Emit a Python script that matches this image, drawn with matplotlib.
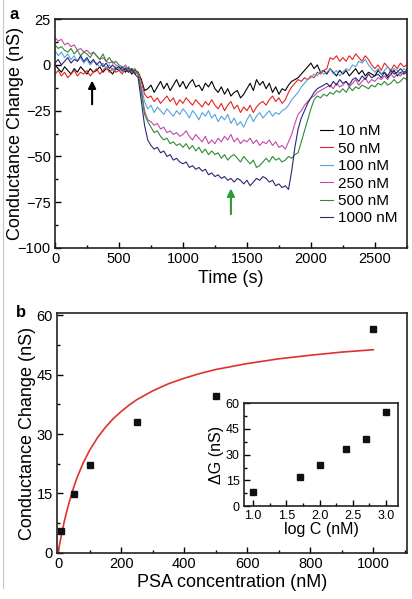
import numpy as np
import matplotlib
matplotlib.use("Agg")
import matplotlib.pyplot as plt
from matplotlib.lines import Line2D
from matplotlib.ticker import MultipleLocator, FormatStrFormatter

plt.rcParams['font.family'] = ['Liberation Sans', 'DejaVu Sans']

# ---- panel a: conductance traces, one sample every 25 s ----
t_s = np.arange(0, 2751, 25)

g_10 = [0, -2, -4, -1, -3, -5, -2, -4, -1, -3,
        -5, -2, -4, -3, -1, -4, -2, -3, -5, -2,
        -3, -1, -4, -2, -5, -3, -4, -8, -14, -13,
        -11, -15, -12, -9, -13, -10, -14, -11, -8, -12,
        -9, -13, -10, -8, -12, -11, -14, -10, -12, -9,
        -13, -15, -12, -16, -13, -17, -15, -14, -18, -16,
        -13, -10, -14, -8, -11, -9, -13, -10, -15, -12,
        -16, -13, -14, -11, -9, -8, -7, -5, -3, -1,
        1, -2, 0, -4, -3, -5, -2, -4, -6, -3,
        -5, -3, -6, -4, -2, -5, -3, -6, -4, -5,
        -6, -3, -5, -4, -7, -5, -3, -6, -4, -5, -4]

g_50 = [-5, -3, -6, -4, -7, -5, -3, -6, -4, -5,
        -3, -6, -4, -2, -5, -3, -1, -4, -2, -4,
        -3, -5, -2, -4, -3, -5, -4, -9, -16, -18,
        -17, -20, -18, -21, -19, -17, -20, -18, -22, -19,
        -21, -18, -20, -22, -19, -21, -23, -20, -22, -19,
        -22, -24, -21, -25, -22, -20, -24, -22, -26, -23,
        -25, -22, -26, -23, -21, -20, -22, -19, -17, -20,
        -18, -21, -19, -15, -12, -10, -8, -9, -7, -8,
        -6, -7, -4, -5, -3, -2, 4, 3, 5, 2,
        4, 2, 5, 3, 6, 4, 2, 5, 3, 0,
        -2, 0, -3, 1, -1, -3, 0, -2, 1, -1, 0]

g_100 = [8, 5, 7, 4, 6, 3, 5, 2, 4, 1,
         3, 0, 2, 1, -1, 1, -2, 0, -3, -1,
         -2, -4, -1, -3, -2, -4, -5, -12, -20, -24,
         -22, -26, -23, -25, -27, -24, -26, -28, -25, -27,
         -24, -26, -29, -25, -27, -30, -26, -28, -25, -29,
         -27, -31, -28, -30, -27, -32, -29, -33, -31, -34,
         -30, -27, -31, -28, -26, -29, -27, -25, -28, -26,
         -27, -25, -24, -22, -19, -17, -15, -12, -10, -8,
         -7, -5, -6, -3, -5, -4, -2, -5, -3, -6,
         -4, -2, -3, 0, -1, 2, 1, 3, 0, -2,
         -4, -2, -5, -3, -1, -4, -2, -3, -5, -2, -3]

g_250 = [15, 13, 14, 11, 12, 10, 11, 8, 9, 7,
         8, 6, 7, 5, 3, 4, 2, 1, 2, 0,
         -1, -2, 0, -3, -2, -4, -5, -14, -25, -30,
         -31, -33, -32, -35, -34, -37, -36, -38, -37, -39,
         -38, -36, -39, -41, -38, -40, -42, -39, -43, -41,
         -43, -40, -42, -39, -41, -38, -42, -40, -43, -41,
         -42, -40, -43, -41, -44, -42, -43, -41, -44, -42,
         -45, -44, -46, -42, -38, -32, -27, -25, -22, -20,
         -18, -17, -15, -14, -13, -12, -11, -13, -10, -12,
         -11, -9, -12, -10, -8, -11, -9, -7, -10, -8,
         -9, -7, -8, -6, -8, -5, -7, -5, -6, -4, -5]

g_500 = [11, 9, 10, 8, 7, 9, 6, 8, 5, 7,
         6, 4, 7, 5, 3, 6, 2, 4, 1, 2,
         0, -1, -3, -1, -4, -2, -5, -15, -27, -31,
         -34, -37, -36, -39, -41, -40, -43, -42, -44, -43,
         -45, -43, -46, -44, -47, -45, -48, -46, -49, -47,
         -49, -48, -51, -49, -52, -50, -49, -51, -53, -50,
         -52, -54, -52, -56, -55, -53, -51, -53, -50, -52,
         -51, -53, -52, -50, -51, -49, -48, -42, -36, -30,
         -24, -19, -17, -18, -16, -17, -15, -16, -14, -15,
         -13, -15, -12, -14, -12, -13, -11, -12, -13, -11,
         -12, -10, -11, -9, -11, -10, -8, -10, -9, -7, -8]

g_1000 = [1, 3, 0, 2, 4, 1, 3, 2, 5, 2,
          4, 1, 3, 0, 2, -1, 1, -2, 0, -2,
          -1, -3, -2, -4, -2, -5, -7, -20, -33, -41,
          -44, -46, -45, -48, -47, -50, -49, -52, -51, -53,
          -54, -53, -56, -55, -57, -56, -58, -57, -60, -59,
          -61, -60, -62, -61, -63, -62, -64, -62, -63, -65,
          -63, -66, -64, -62, -63, -61, -62, -64, -63, -66,
          -65, -67, -66, -68, -58, -45, -35, -29, -25, -21,
          -18, -15, -13, -12, -11, -10, -12, -9, -11, -8,
          -10, -9, -11, -8, -7, -9, -6, -8, -5, -7,
          -6, -5, -7, -4, -6, -3, -5, -4, -2, -4, -3]

trace_labels = ["10 nM", "50 nM", "100 nM", "250 nM", "500 nM", "1000 nM"]
trace_colors = ["#000000", "#e8231f", "#58a2dc", "#c24aa6", "#2e8b34", "#2c2773"]

# ---- panel b: response vs concentration ----
conc_nM = [10, 50, 100, 250, 500, 1000]
dG_main = [5.5, 14.9, 22.3, 33.0, 39.5, 56.6]

# red fit curve
fit_x = [0, 5, 10, 20, 30, 40, 50, 60, 80, 100, 125, 150, 175, 200, 225,
         250, 275, 300, 350, 400, 450, 500, 600, 700, 800, 900, 1000]
fit_y = [0, 2.3, 4.3, 8.1, 11.3, 14.1, 16.7, 19.0, 22.8, 25.9, 29.1, 31.7,
         33.9, 35.7, 37.3, 38.7, 39.8, 40.9, 42.7, 44.1, 45.3, 46.3, 47.8,
         49.0, 49.9, 50.7, 51.3]

# inset: dG vs log C
logC = [1.0, 1.7, 2.0, 2.4, 2.7, 3.0]
dG_inset = [8.5, 17.0, 23.9, 33.3, 39.2, 54.8]


def style_axes(ax, fs):
    ax.tick_params(which='both', direction='in', top=False, right=False,
                   labelsize=fs, pad=3)
    ax.tick_params(which='major', length=4, width=1)
    ax.tick_params(which='minor', length=2.5, width=1)
    for sp in ax.spines.values():
        sp.set_linewidth(1.2)
        sp.set_color('#222222')


fig = plt.figure(figsize=(4.12, 5.99), dpi=100)

# panel a
ax1 = fig.add_axes([0.1335, 0.586, 0.854, 0.382])
for y, lab, col in zip([g_10, g_50, g_100, g_250, g_500, g_1000],
                       trace_labels, trace_colors):
    ax1.plot(t_s, y, color=col, lw=0.8, label=lab)
ax1.set_xlim(0, 2750)
ax1.set_ylim(-100, 25)
ax1.xaxis.set_major_locator(MultipleLocator(500))
ax1.xaxis.set_minor_locator(MultipleLocator(250))
ax1.yaxis.set_major_locator(MultipleLocator(25))
ax1.yaxis.set_minor_locator(MultipleLocator(12.5))
style_axes(ax1, 10.5)
ax1.set_xlabel("Time (s)", fontsize=13, labelpad=3)
ax1.set_ylabel("Conductance Change (nS)", fontsize=13)
ax1.yaxis.set_label_coords(-0.088, 0.5)
ax1.legend(loc='upper left', bbox_to_anchor=(0.753, 0.54), frameon=False,
           fontsize=11, handlelength=0.85, handletextpad=0.3,
           labelspacing=0.22, borderpad=0, borderaxespad=0)
ax1.annotate("", xy=(290, -7), xytext=(290, -23),
             arrowprops=dict(arrowstyle='-|>', color='k', lw=1.5,
                             mutation_scale=11))
ax1.annotate("", xy=(1375, -66), xytext=(1375, -83),
             arrowprops=dict(arrowstyle='-|>', color='#2e9b3a', lw=1.5,
                             mutation_scale=11))

# panel b
ax2 = fig.add_axes([0.138, 0.077, 0.85, 0.4])
ax2.plot(fit_x, fit_y, color='#e03030', lw=1.2)
ax2.plot(conc_nM, dG_main, 's', color='#111111', markersize=5)
ax2.set_xlim(-4, 1107)
ax2.set_ylim(0, 60.5)
ax2.xaxis.set_major_locator(MultipleLocator(200))
ax2.xaxis.set_minor_locator(MultipleLocator(100))
ax2.yaxis.set_major_locator(MultipleLocator(15))
ax2.yaxis.set_minor_locator(MultipleLocator(7.5))
style_axes(ax2, 10.5)
ax2.set_xlabel("PSA concentration (nM)", fontsize=13, labelpad=2)
ax2.set_ylabel("Conductance Change (nS)", fontsize=13)
ax2.yaxis.set_label_coords(-0.06, 0.5)

# inset
ax3 = fig.add_axes([0.592, 0.155, 0.374, 0.172])
ax3.plot(logC, dG_inset, 's', color='#111111', markersize=4)
ax3.set_xlim(0.86, 3.18)
ax3.set_ylim(0, 60)
ax3.xaxis.set_major_locator(MultipleLocator(0.5))
ax3.xaxis.set_minor_locator(MultipleLocator(0.25))
ax3.yaxis.set_major_locator(MultipleLocator(15))
ax3.yaxis.set_minor_locator(MultipleLocator(7.5))
style_axes(ax3, 9)
ax3.xaxis.set_major_formatter(FormatStrFormatter('%.1f'))
ax3.set_xlabel("log C (nM)", fontsize=11.5, labelpad=0)
ax3.set_ylabel("\u0394G (nS)", fontsize=11.5, labelpad=1)

# panel letters and the thin frame line on the left
fig.text(0.022, 0.988, "a", fontsize=12, fontweight='bold', va='top')
fig.text(0.038, 0.49, "b", fontsize=12, fontweight='bold', va='top')
fig.add_artist(Line2D([0.008, 0.008], [0.018, 1.0], color='#c8c8c8', lw=0.8))

fig.savefig("out.png", dpi=100)
